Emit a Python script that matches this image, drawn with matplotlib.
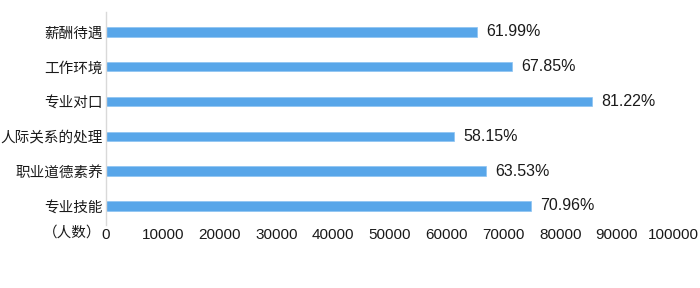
import matplotlib
matplotlib.use("Agg")
import matplotlib.pyplot as plt

plt.rcParams['font.family'] = ['Noto Sans CJK SC', 'DejaVu Sans']

categories = ["薪酬待遇", "工作环境", "专业对口", "人际关系的处理", "职业道德素养", "专业技能"]
counts = [65370, 71550, 85650, 61320, 67000, 74830]
pct_labels = ["61.99%", "67.85%", "81.22%", "58.15%", "63.53%", "70.96%"]
xticks = list(range(0, 100001, 10000))

fig = plt.figure(figsize=(7, 2.88), dpi=100)
ax = fig.add_axes([0.1514, 0.2188, 0.811, 0.7396])

ypos = list(range(len(categories)))
ax.barh(ypos, counts, height=0.27, color="#58A6E9", edgecolor="#8CC3F2", linewidth=0.5)

for y, v, lab in zip(ypos, counts, pct_labels):
    ax.annotate(lab, xy=(v, y), xytext=(6.5, 0), textcoords="offset points",
                ha="left", va="center", fontsize=11.5, color="#1a1a1a",
                family=['Liberation Sans', 'DejaVu Sans'])

ax.set_xlim(0, 100000)
ax.set_ylim(5.546, -0.575)
ax.set_yticks(ypos)
ax.set_yticklabels(categories, fontsize=10.5, color="#1a1a1a")
ax.set_xticks(xticks)
ax.set_xticklabels([str(t) for t in xticks], fontsize=11, color="#1a1a1a",
                   family=['Liberation Sans', 'DejaVu Sans'])
ax.tick_params(axis="both", length=0)
ax.tick_params(axis="x", pad=2)
ax.tick_params(axis="y", pad=2)

for side in ["top", "right", "bottom"]:
    ax.spines[side].set_visible(False)
ax.spines["left"].set_color("#D9D9D9")
ax.spines["left"].set_linewidth(1.0)

fig.text(101 / 700, 1 - 233 / 288, "（人数）", ha="right", va="center",
         fontsize=10.5, color="#1a1a1a")

fig.savefig("out.png", dpi=100)
